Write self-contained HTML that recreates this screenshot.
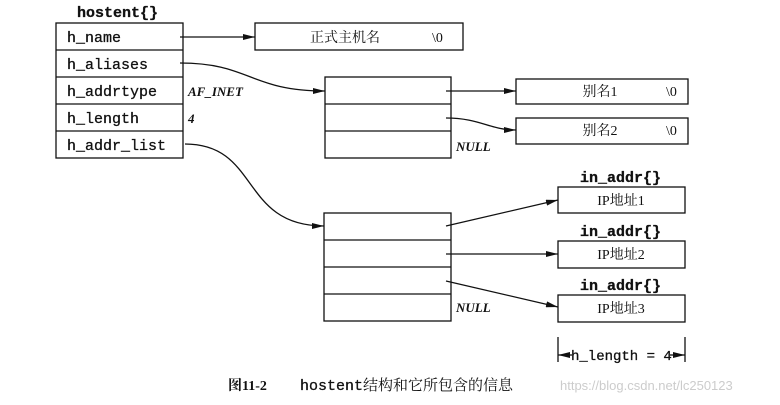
<!DOCTYPE html>
<html><head><style>
body{margin:0;background:#fff;}
svg text{font-family:"Liberation Mono",monospace;fill:#111;}
.c{font-family:"Liberation Serif","Noto Serif CJK SC",serif !important;}
</style></head><body>
<svg width="780" height="400" viewBox="0 0 780 400" xmlns="http://www.w3.org/2000/svg">
<defs><marker id="a" markerWidth="12" markerHeight="6" refX="12" refY="3" orient="auto" markerUnits="userSpaceOnUse"><path d="M0,0L12,3L0,6z" fill="#111"/></marker></defs>
<g stroke="#111" stroke-width="1.3" fill="none">
<rect x="56" y="23" width="127" height="135"/>
<line x1="56" y1="50" x2="183" y2="50"/><line x1="56" y1="77" x2="183" y2="77"/><line x1="56" y1="104" x2="183" y2="104"/><line x1="56" y1="131" x2="183" y2="131"/>
<rect x="255" y="23" width="208" height="27"/>
<rect x="325" y="77" width="126" height="81"/>
<line x1="325" y1="104" x2="451" y2="104"/><line x1="325" y1="131" x2="451" y2="131"/>
<rect x="516" y="79" width="172" height="25"/>
<rect x="516" y="118" width="172" height="26"/>
<rect x="324" y="213" width="127" height="108"/>
<line x1="324" y1="240" x2="451" y2="240"/><line x1="324" y1="267" x2="451" y2="267"/><line x1="324" y1="294" x2="451" y2="294"/>
<rect x="558" y="187" width="127" height="26"/>
<rect x="558" y="241" width="127" height="27"/>
<rect x="558" y="295" width="127" height="27"/>
<line x1="558" y1="337" x2="558" y2="362"/><line x1="685" y1="337" x2="685" y2="362"/>
<g marker-end="url(#a)">
<line x1="180" y1="37" x2="255" y2="37"/>
<path d="M180,63 C250,63 250,91 325,91"/>
<line x1="446" y1="91" x2="516" y2="91"/>
<path d="M446,118 C480,118 490,130 516,130"/>
<path d="M185,144 C260,144 240,226 324,226"/>
<line x1="446" y1="226" x2="558" y2="200"/>
<line x1="446" y1="254" x2="558" y2="254"/>
<line x1="446" y1="281" x2="558" y2="307"/>
<line x1="572" y1="355" x2="558" y2="355"/>
<line x1="670" y1="355" x2="685" y2="355"/>
</g></g>
<g font-size="15" style="stroke:#111;stroke-width:0.3">
<text x="77" y="17" font-weight="bold">hostent{}</text>
<text x="67" y="42">h_name</text>
<text x="67" y="69">h_aliases</text>
<text x="67" y="96">h_addrtype</text>
<text x="67" y="123">h_length</text>
<text x="67" y="150">h_addr_list</text>
<text x="580" y="182" font-weight="bold">in_addr{}</text>
<text x="580" y="236" font-weight="bold">in_addr{}</text>
<text x="580" y="290" font-weight="bold">in_addr{}</text>
<text x="571" y="360" font-size="14">h_length = 4</text>
<text x="300" y="390" font-size="15">hostent</text>
</g>
<g font-size="13" font-style="italic" font-weight="bold">
<text class="c" x="188" y="96">AF_INET</text>
<text class="c" x="188" y="123">4</text>
<text class="c" x="456" y="151">NULL</text>
<text class="c" x="456" y="312">NULL</text>
</g>
<g font-size="14">
<text class="c" x="345" y="42" text-anchor="middle">正式主机名</text><text class="c" x="432" y="42">\0</text>
<text class="c" x="600" y="96" text-anchor="middle">别名1</text><text class="c" x="666" y="96">\0</text>
<text class="c" x="600" y="135" text-anchor="middle">别名2</text><text class="c" x="666" y="135">\0</text>
<text class="c" x="621" y="205" text-anchor="middle">IP地址1</text>
<text class="c" x="621" y="259" text-anchor="middle">IP地址2</text>
<text class="c" x="621" y="313" text-anchor="middle">IP地址3</text>
<text class="c" x="228" y="390" font-weight="bold">图11-2</text>
<text class="c" x="363" y="390" font-size="15">结构和它所包含的信息</text>
<text x="560" y="390" style="font-family:'Liberation Sans',sans-serif;fill:#ccc" font-size="13">https://blog.csdn.net/lc250123</text>
</g>
</svg>
</body></html>
